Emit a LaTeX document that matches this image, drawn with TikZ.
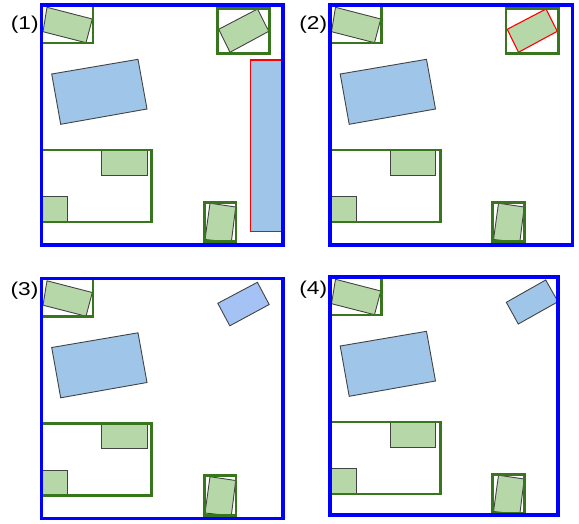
\documentclass[tikz,border=0pt]{standalone}
\usepackage{fontspec}
\setmainfont{Liberation Sans}
\definecolor{frameblue}{HTML}{0000FF}
\definecolor{framegreen}{HTML}{38761D}
\definecolor{boxgreen}{HTML}{B6D7A8}
\definecolor{boxblue}{HTML}{9FC5E8}
\definecolor{boxlav}{HTML}{A4C2F4}
\definecolor{outline}{HTML}{434343}
\definecolor{hired}{HTML}{FF0000}
\tikzset{
  bframe/.style={draw=frameblue, line width=3.8pt},
  gframe/.style={draw=framegreen, line width=2.9pt},
  gbox/.style={fill=boxgreen, draw=outline, line width=0.9pt},
  bbox/.style={fill=boxblue, draw=outline, line width=0.9pt},
  lbox/.style={fill=boxlav, draw=outline, line width=0.9pt},
  redbox/.style={fill=boxblue, draw=hired, line width=1.1pt},
  redgbox/.style={fill=boxgreen, draw=hired, line width=1.1pt},
  plabel/.style={inner sep=0pt, font=\fontsize{18.6}{20}\selectfont}
}
\newcommand{\commonparts}{%
  \draw[bbox] (51.7,74) -- (138,59.3) -- (147,109) -- (60.7,124.3) -- cycle;
  \draw[gbox] (47,7.3) -- (92.3,19) -- (86,42.7) -- (43,31.7) -- cycle;
  \draw[gbox] (101.7,150.7) rectangle (147,175.3);
  \draw[gbox] (42.7,196.7) rectangle (67.7,221.3);
  \draw[gbox] (210,203.2) -- (235.7,207) -- (231.3,242.3) -- (205,239.5) -- cycle;
  \draw[gframe] (41.5,5) rectangle (93,43);
  \draw[gframe] (41.5,150) rectangle (151.7,222);
  \draw[gframe] (204.2,202.2) rectangle (236,241.7);
}
\begin{document}
\begin{tikzpicture}[x=1pt,y=-1pt]
\useasboundingbox (0,0) rectangle (579,523);
% panel 1
\begin{scope}
  \commonparts
  \draw[gbox] (218.7,29.3) -- (257.5,9) -- (268.8,31.3) -- (230,52.3) -- cycle;
  \draw[gframe] (217.5,8.5) rectangle (269.8,53.8);
  \draw[redbox] (250.8,60) rectangle (283,231.7);
  \draw[bframe] (41.5,5) rectangle (282.8,245);
\end{scope}
\node[plabel] (l1) at (24.7,25) {\scalebox{1.22}[1]{(1)}};
% panel 2
\begin{scope}[shift={(288.5,0)}]
  \commonparts
  \draw[redgbox] (218.7,29.3) -- (257.5,9) -- (268.8,31.3) -- (230,52.3) -- cycle;
  \draw[gframe] (217.5,8.5) rectangle (269.8,53.8);
  \draw[bframe] (41.5,5) rectangle (284,245);
\end{scope}
\node[plabel] (l2) at (313.3,25) {\scalebox{1.22}[1]{(2)}};
% panel 3
\begin{scope}[shift={(0,273.5)}]
  \commonparts
  \draw[lbox] (217.8,29.8) -- (257.4,8.8) -- (269.2,31) -- (229.8,52.3) -- cycle;
  \draw[bframe] (41.5,5) rectangle (282.8,245);
\end{scope}
\node[plabel] (l3) at (24.5,290.5) {\scalebox{1.22}[1]{(3)}};
% panel 4
\begin{scope}[shift={(288.5,272)}]
  \commonparts
  \draw[bbox] (217.8,30.3) -- (257.2,8) -- (269.5,29.7) -- (229.8,52) -- cycle;
  \draw[bframe] (41.5,5) rectangle (269.2,243);
\end{scope}
\node[plabel] (l4) at (313.3,290) {\scalebox{1.22}[1]{(4)}};
\end{tikzpicture}
\end{document}
